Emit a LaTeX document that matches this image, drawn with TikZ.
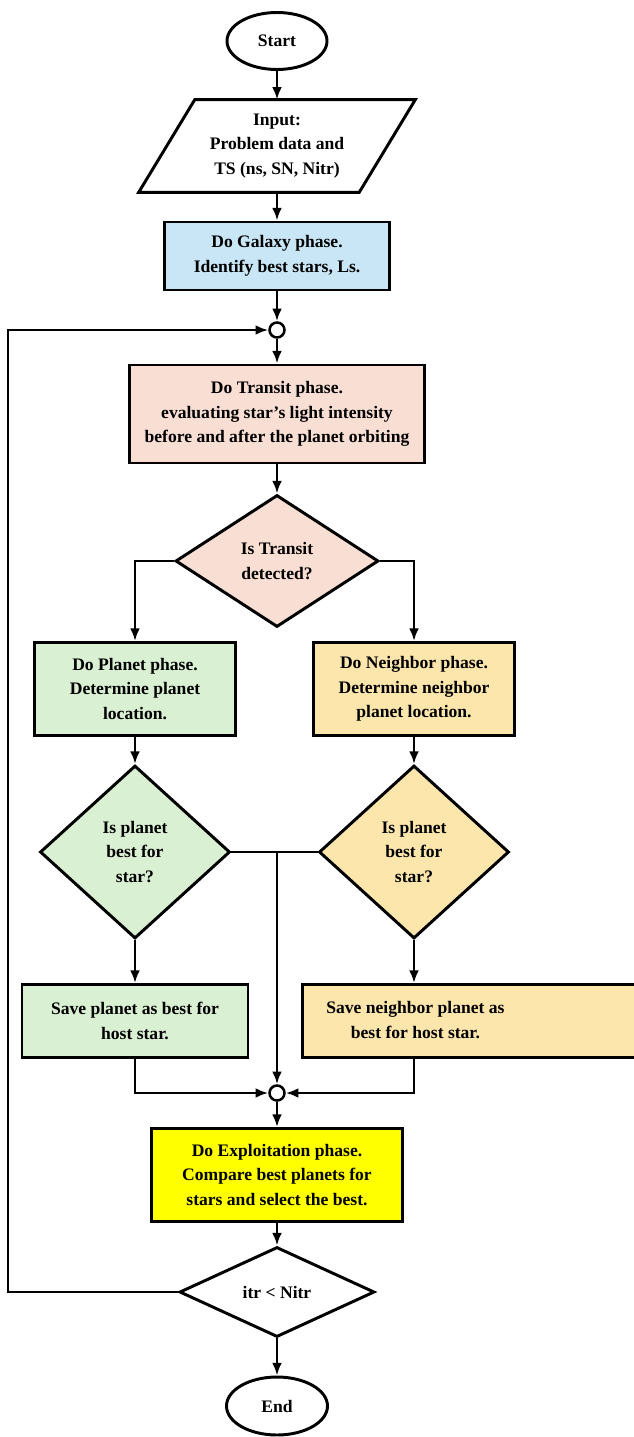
\documentclass[tikz,border=0pt]{standalone}
\usepackage{fontspec}
\setmainfont{Liberation Serif}
\usetikzlibrary{shapes.geometric, arrows.meta}
\definecolor{galaxyblue}{RGB}{200,230,245}
\definecolor{transitpink}{RGB}{249,222,211}
\definecolor{planetgreen}{RGB}{217,240,211}
\definecolor{neighboryellow}{RGB}{252,230,172}
\definecolor{exploityellow}{RGB}{255,255,0}
\begin{document}
\begin{tikzpicture}[x=0.025cm, y=-0.025cm, font=\bfseries\fontsize{12.5}{17.5}\selectfont]
        \def\px{0.025cm}
        \tikzset{mybox/.style={rectangle, draw=black, line width=2.1pt, inner sep=0pt, text centered, align=center},
            mydec/.style={diamond, draw=black, line width=2.1pt, inner sep=0pt, align=center},
            myterm/.style={ellipse, draw=black, line width=2.1pt, inner sep=0pt},
            myjoin/.style={circle, draw=black, line width=1.8pt, fill=white, inner sep=0pt, minimum size=15*\px},
            myarr/.style={line width=2.1pt, arrows={-Latex[length=9pt, width=7pt]}}}
        \useasboundingbox (0,0) rectangle (633,1437);

        \node[myterm, minimum width=100*\px, minimum height=57*\px] (S) at (277,41) {Start};
        \node[align=center, inner sep=0pt, minimum width=220*\px, minimum height=92*\px] (In) at (277,146) {Input:\\ Problem data and\\ TS (ns, SN, Nitr)};
        \draw[line width=2.1pt] ([xshift=28*\px]In.north west) -- ([xshift=28*\px]In.north east)
            -- ([xshift=-28*\px]In.south east) -- ([xshift=-28*\px]In.south west) -- cycle;
        \node[mybox, fill=galaxyblue, minimum width=225*\px, minimum height=68*\px] (G) at (277,256) {Do Galaxy phase.\\ Identify best stars, Ls.};
        \node[myjoin] (M1) at (277,330) {};
        \node[mybox, fill=transitpink, minimum width=295*\px, minimum height=98*\px] (T) at (277,414) {Do Transit phase.\\ evaluating star’s light intensity\\ before and after the planet orbiting};
        \node[mydec, fill=transitpink, minimum width=203*\px, minimum height=132*\px] (TQ) at (277,561) {Is Transit\\ detected?};

        \node[mybox, fill=planetgreen, minimum width=201*\px, minimum height=93*\px] (P) at (135,689) {Do Planet phase.\\ Determine planet\\ location.};
        \node[mybox, fill=neighboryellow, minimum width=201*\px, minimum height=93*\px] (N) at (414,689) {Do Neighbor phase.\\ Determine neighbor\\ planet location.};
        \node[mydec, fill=planetgreen, minimum width=190*\px, minimum height=173*\px] (PQ) at (135,852) {Is planet\\ best for\\ star?};
        \node[mydec, fill=neighboryellow, minimum width=190*\px, minimum height=173*\px] (NQ) at (414,852) {Is planet\\ best for\\ star?};
        \node[mybox, fill=planetgreen, minimum width=226*\px, minimum height=73*\px] (PS) at (135,1021) {Save planet as best for\\ host star.};
        \node[mybox, fill=neighboryellow, anchor=west, minimum width=340*\px, minimum height=73*\px] (NS) at (301,1021) {\begin{tabular}{@{}c@{}}Save neighbor planet as\\ best for host star.\end{tabular}\hspace{2.85cm}};

        \node[myjoin] (M2) at (277,1093) {};
        \node[mybox, fill=exploityellow, minimum width=251*\px, minimum height=93*\px] (E) at (277,1175) {Do Exploitation phase.\\ Compare best planets for\\ stars and select the best.};
        \node[mydec, fill=white, minimum width=195*\px, minimum height=90*\px] (IQ) at (277,1292) {itr < Nitr};
        \node[myterm, minimum width=101*\px, minimum height=58*\px] (End) at (277,1406) {End};
        \coordinate (J) at (277,852);
        \coordinate (C) at (8,1292);

        \draw[myarr] (S) -- (In);
        \draw[myarr] (In) -- (G);
        \draw[myarr] (G) -- (M1);
        \draw[myarr] (M1) -- (T);
        \draw[myarr] (T) -- (TQ);
        \draw[myarr] (TQ.west) -| (P);
        \draw[myarr] (TQ.east) -| (N);
        \draw[myarr] (P) -- (PQ);
        \draw[myarr] (N) -- (NQ);
        \draw[myarr] (PQ) -- (PS);
        \draw[myarr] (NQ.south) -- (NQ.south |- NS.north);
        \draw[line width=2.1pt] (PQ.east) -- (NQ.west);
        \draw[myarr] (J) -- (M2);
        \draw[myarr] (PS) |- (M2);
        \draw[myarr] (NQ.south |- NS.south) |- (M2);
        \draw[myarr] (M2) -- (E);
        \draw[myarr] (E) -- (IQ);
        \draw[myarr] (IQ) -- (End);
        \draw[myarr] (IQ.west) -- (C) |- (M1);
\end{tikzpicture}
\end{document}
